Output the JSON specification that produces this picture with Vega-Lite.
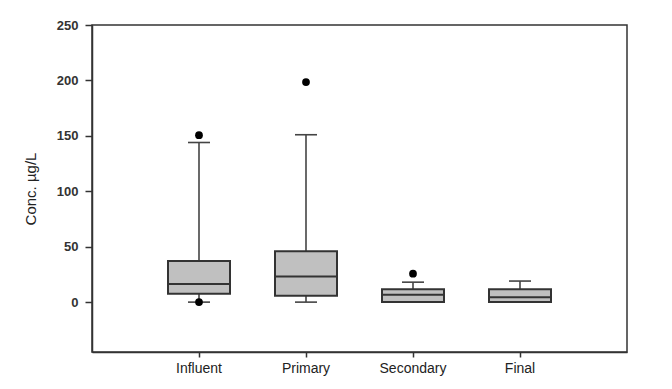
{
  "$schema": "https://vega.github.io/schema/vega-lite/v6.json",
  "width": 535,
  "height": 327,
  "autosize": {"type": "none"},
  "padding": {"left": 92, "top": 25, "right": 45, "bottom": 37},
  "background": "white",
  "config": {
    "font": "Liberation Sans",
    "view": {"stroke": "#333", "strokeWidth": 1.5},
    "axis": {"grid": false, "domainColor": "#333", "domainWidth": 1.5, "tickColor": "#333", "tickWidth": 1.5}
  },
  "datasets": {
    "boxes": [
      {"group": "Influent", "lower": 0, "q1": 7.6, "median": 16.3, "q3": 37, "upper": 144},
      {"group": "Primary", "lower": 0, "q1": 5.8, "median": 23.2, "q3": 46, "upper": 151},
      {"group": "Secondary", "lower": 0, "q1": 0, "median": 6.7, "q3": 11.5, "upper": 18},
      {"group": "Final", "lower": 0, "q1": 0, "median": 4.5, "q3": 11.5, "upper": 19}
    ],
    "outliers": [
      {"group": "Influent", "value": 150.6},
      {"group": "Influent", "value": 0},
      {"group": "Primary", "value": 198.5},
      {"group": "Secondary", "value": 25.6}
    ]
  },
  "encoding": {
    "x": {
      "field": "group",
      "type": "nominal",
      "sort": ["Influent", "Primary", "Secondary", "Final"],
      "scale": {"type": "band", "paddingInner": 0, "paddingOuter": 0.5},
      "axis": {"title": null, "labelAngle": 0, "tickSize": 5, "labelPadding": 4, "labelFontSize": 14, "labelColor": "#222", "domain": true}
    }
  },
  "layer": [
    {
      "data": {"name": "boxes"},
      "mark": {"type": "rule", "color": "#444", "strokeWidth": 1.6},
      "encoding": {
        "y": {
          "field": "lower",
          "type": "quantitative",
          "scale": {"domain": [-45, 250], "nice": false, "zero": false},
          "axis": {
            "title": "Conc. µg/L",
            "values": [0, 50, 100, 150, 200, 250],
            "tickSize": 7,
            "labelPadding": 7,
            "labelFontSize": 13,
            "labelFontWeight": "bold",
            "labelColor": "#333",
            "titleFontSize": 15,
            "titleFontWeight": "normal",
            "titleColor": "#222",
            "titleAngle": 270,
            "titleAlign": "center",
            "titleBaseline": "alphabetic",
            "titleX": -57,
            "titleY": 163.5
          }
        },
        "y2": {"field": "upper"}
      }
    },
    {
      "data": {"name": "boxes"},
      "mark": {"type": "tick", "color": "#444", "opacity": 1, "size": 22, "thickness": 1.6},
      "encoding": {"y": {"field": "lower", "type": "quantitative"}}
    },
    {
      "data": {"name": "boxes"},
      "mark": {"type": "tick", "color": "#444", "opacity": 1, "size": 22, "thickness": 1.6},
      "encoding": {"y": {"field": "upper", "type": "quantitative"}}
    },
    {
      "data": {"name": "boxes"},
      "mark": {"type": "bar", "size": 62, "fill": "#c0c0c0", "stroke": "#333", "strokeWidth": 2},
      "encoding": {
        "y": {"field": "q1", "type": "quantitative"},
        "y2": {"field": "q3"}
      }
    },
    {
      "data": {"name": "boxes"},
      "mark": {"type": "tick", "color": "#333", "opacity": 1, "size": 62, "thickness": 2},
      "encoding": {"y": {"field": "median", "type": "quantitative"}}
    },
    {
      "data": {"name": "outliers"},
      "mark": {"type": "point", "filled": true, "color": "#000", "opacity": 1, "size": 60},
      "encoding": {"y": {"field": "value", "type": "quantitative"}}
    }
  ]
}
